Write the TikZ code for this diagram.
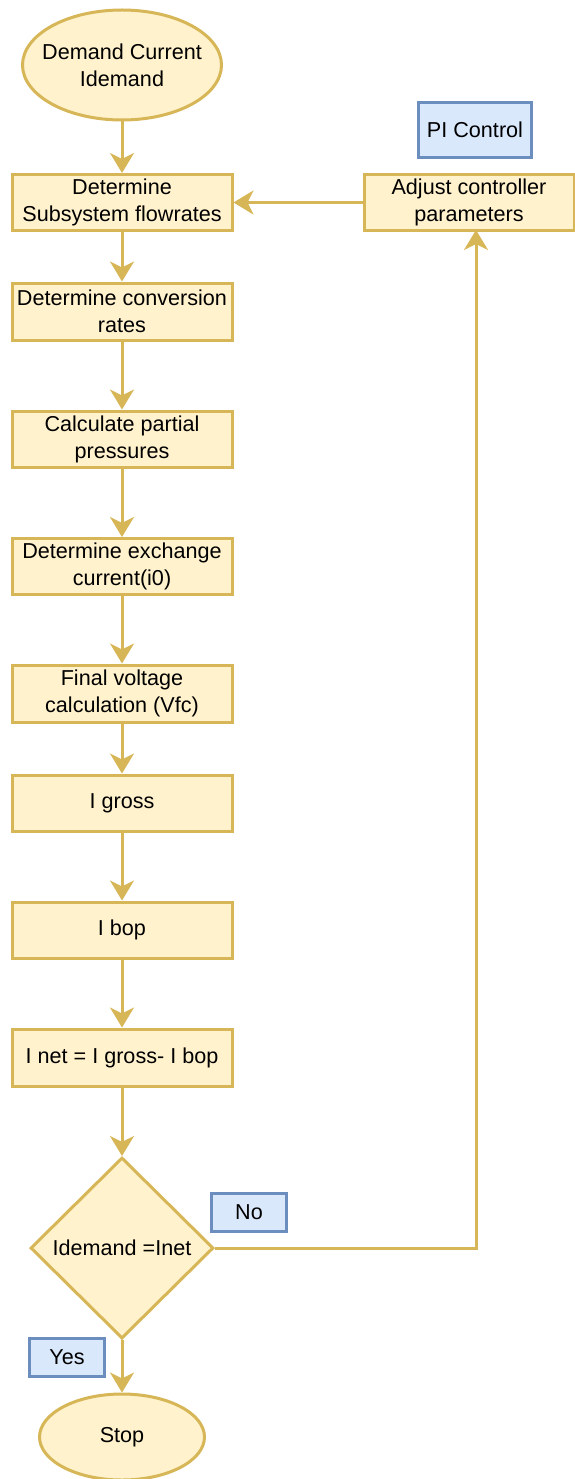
\documentclass[tikz,border=0pt]{standalone}
\usepackage{fontspec}
\setmainfont{Liberation Sans}
\usetikzlibrary{arrows.meta,shapes.geometric}
\definecolor{yfill}{HTML}{FFF2CC}
\definecolor{ydraw}{HTML}{D6B656}
\definecolor{bfill}{HTML}{DAE8FC}
\definecolor{bdraw}{HTML}{6C8EBF}
\tikzset{
  every node/.style={font=\fontsize{21.6}{27}\selectfont, align=center, inner sep=0pt},
  procbox/.style={draw=ydraw, fill=yfill, line width=3pt, minimum width=220pt, minimum height=56pt},
  termnode/.style={ellipse, draw=ydraw, fill=yfill, line width=3pt},
  decide/.style={diamond, draw=ydraw, fill=yfill, line width=3pt, minimum width=183pt, minimum height=181pt, aspect=1},
  labelbox/.style={draw=bdraw, fill=bfill, line width=3pt},
  flow/.style={draw=ydraw, line width=3pt, -{Triangle[length=20pt,width=24pt,inset=6pt]}}
}
\begin{document}
\begin{tikzpicture}[x=1pt,y=-1pt]
\useasboundingbox (0,0) rectangle (575,1479);
\node[termnode, minimum width=199pt, minimum height=110pt, label={[align=center]center:Demand Current\\Idemand}] (start) at (122,65) {};
\node[procbox] (b1) at (122,202.5) {Determine\\Subsystem flowrates};
\node[procbox, minimum height=57pt] (b2) at (122,311.5) {Determine conversion\\rates};
\node[procbox] (b3) at (122,439) {Calculate partial\\pressures};
\node[procbox] (b4) at (122,566.5) {Determine exchange\\current(i0)};
\node[procbox, minimum height=57pt] (b5) at (122,693.5) {Final voltage\\calculation (Vfc)};
\node[procbox] (b6) at (122,803) {I gross};
\node[procbox] (b7) at (122,930) {I bop};
\node[procbox, minimum height=57pt] (b8) at (122,1057.5) {I net = I gross- I bop};
\node[decide] (dec) at (122,1248) {Idemand =Inet};
\node[termnode, minimum width=165pt, minimum height=86pt, label={center:Stop}] (stop) at (122,1437) {};
\node[procbox, minimum width=210pt] (adj) at (469,202.5) {Adjust controller\\parameters};
\node[labelbox, minimum width=113pt, minimum height=55pt] (pi) at (475,130) {PI Control};
\node[labelbox, minimum width=75pt, minimum height=38pt] (no) at (249,1212.5) {No};
\node[labelbox, minimum width=75pt, minimum height=38pt] (yes) at (67,1357.5) {Yes};
\coordinate (c1) at (476,1248);
\coordinate (c2) at (476,230);
\draw[flow] (start) -- (b1);
\draw[flow] (b1) -- (b2);
\draw[flow] (b2) -- (b3);
\draw[flow] (b3) -- (b4);
\draw[flow] (b4) -- (b5);
\draw[flow] (b5) -- (b6);
\draw[flow] (b6) -- (b7);
\draw[flow] (b7) -- (b8);
\draw[flow] (b8) -- (dec);
\draw[flow] (dec) -- (stop);
\draw[flow] (dec.east) -- (c1) -- (c2);
\draw[flow] (adj) -- (b1);
\end{tikzpicture}
\end{document}
